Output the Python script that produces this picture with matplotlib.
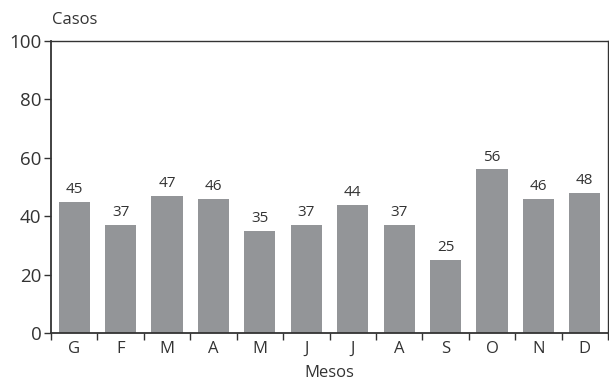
import numpy as np
import matplotlib.pyplot as plt
from matplotlib.ticker import FixedLocator

plt.rcParams['font.family'] = ['Open Sans', 'DejaVu Sans']

# dati del grafico
mesi = ['G', 'F', 'M', 'A', 'M', 'J', 'J', 'A', 'S', 'O', 'N', 'D']
casi = [45, 37, 47, 46, 35, 37, 44, 37, 25, 56, 46, 48]
y_ticks = [0, 20, 40, 60, 80, 100]

bar_color = '#939598'
axis_color = '#333333'

fig = plt.figure(figsize=(6.09, 3.83), dpi=100)
ax = fig.add_axes([51 / 609, 50 / 383, 557 / 609, 292 / 383])

x = np.arange(len(mesi))
bars = ax.bar(x, casi, width=0.67, color=bar_color, zorder=2)

for xi, v in zip(x, casi):
    ax.text(xi, v + 1.6, str(v), ha='center', va='bottom', fontsize=11, color='#333333')

ax.set_xlim(-0.5, len(mesi) - 0.5)
ax.set_ylim(0, 100)
ax.set_yticks(y_ticks)
ax.set_xticks(x)
ax.set_xticklabels(mesi)
ax.xaxis.set_minor_locator(FixedLocator(np.arange(-0.5, len(mesi), 1.0)))

ax.tick_params(axis='x', which='major', length=0, pad=6, labelsize=12, colors='#333333')
ax.tick_params(axis='x', which='minor', length=5, width=1, direction='out', color=axis_color)
ax.tick_params(axis='y', length=5, width=1, direction='out', labelsize=13.5, pad=2, colors='#333333')

for s in ax.spines.values():
    s.set_color(axis_color)
    s.set_linewidth(1)
ax.spines['left'].set_linewidth(1.3)
ax.spines['bottom'].set_linewidth(1.3)

fig.text(52 / 609, 1 - 20 / 383, 'Casos', ha='left', va='center', fontsize=12, color='#333333')
fig.text((51 + 608) / 2 / 609, 1 - 373 / 383, 'Mesos', ha='center', va='center', fontsize=12, color='#333333')

fig.savefig('out.png', dpi=100)
